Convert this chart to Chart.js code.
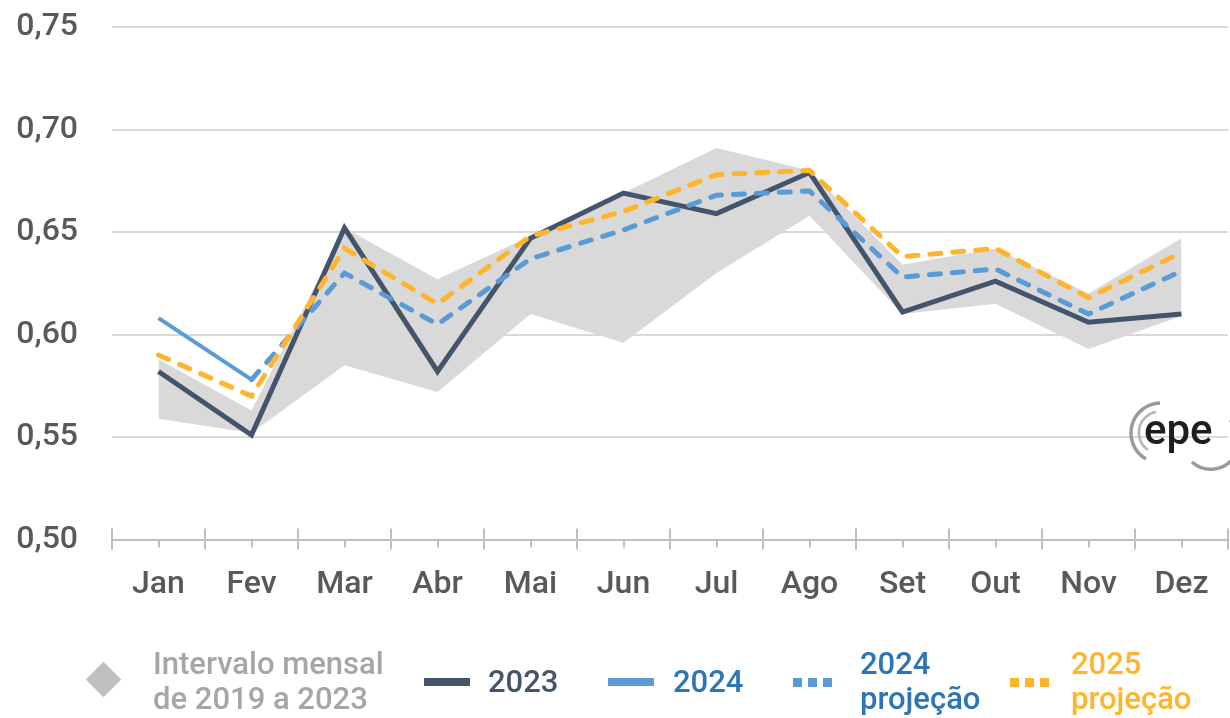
<!DOCTYPE html>
<html lang="pt">
<head>
  <meta charset="UTF-8" />
  <title>Intervalo mensal</title>
  <script src="https://cdn.jsdelivr.net/npm/chart.js"></script>
  <style>
    body { margin: 0; background: #fff; font-family: Roboto, sans-serif; }
    #wrap { position: relative; width: 1230px; height: 718px; overflow: hidden; }
    #chart { position: absolute; left: 0; top: 0; }
    .lg { position: absolute; font-size: 31px; font-weight: 500; line-height: 35px; white-space: nowrap; }
    .bar { position: absolute; height: 8px; width: 46px; }
    .sq { position: absolute; width: 9px; height: 9px; }
    #logo { position: absolute; left: 1118px; top: 396px; width: 112px; height: 80px; }
  </style>
</head>
<body>
<div id="wrap">
  <canvas id="chart" width="1230" height="718"></canvas>

  <!-- legenda -->
  <div style="position:absolute;left:91px;top:667px;width:25px;height:25px;background:#BFBFBF;transform:rotate(45deg);"></div>
  <div class="lg" style="left:153px;top:646px;color:#A6A6A6;">Intervalo mensal<br>de 2019 a 2023</div>

  <div class="bar" style="left:424px;top:678px;background:#44546A;"></div>
  <div class="lg" style="left:488px;top:664px;color:#44546A;">2023</div>

  <div class="bar" style="left:608px;top:678px;background:#5B9BD5;"></div>
  <div class="lg" style="left:673px;top:664px;color:#2E75B6;">2024</div>

  <div class="sq" style="left:793px;top:678px;background:#5B9BD5;"></div>
  <div class="sq" style="left:808px;top:678px;background:#5B9BD5;"></div>
  <div class="sq" style="left:823px;top:678px;background:#5B9BD5;"></div>
  <div class="lg" style="left:860px;top:646px;color:#2E75B6;">2024<br>projeção</div>

  <div class="sq" style="left:1010px;top:678px;background:#FFB52B;"></div>
  <div class="sq" style="left:1025px;top:678px;background:#FFB52B;"></div>
  <div class="sq" style="left:1040px;top:678px;background:#FFB52B;"></div>
  <div class="lg" style="left:1071px;top:646px;color:#FFB52B;">2025<br>projeção</div>

  <!-- logo epe -->
  <svg id="logo" viewBox="0 0 112 80">
    <path d="M42 7 A30 30 0 0 0 28 63" fill="none" stroke="#9a9a9a" stroke-width="3.5"/>
    <path d="M38 16 A21 21 0 0 0 30 54" fill="none" stroke="#b5b5b5" stroke-width="2.5"/>
    <path d="M112 24 A24 24 0 0 1 74 66" fill="none" stroke="#9a9a9a" stroke-width="3.5"/>
    <text x="26" y="48" font-family="Roboto, sans-serif" font-size="42" font-weight="500" fill="#1e1e1e">epe</text>
  </svg>
</div>

<script>
  const months = ['Jan', 'Fev', 'Mar', 'Abr', 'Mai', 'Jun', 'Jul', 'Ago', 'Set', 'Out', 'Nov', 'Dez'];
  const yTicks = [0.50, 0.55, 0.60, 0.65, 0.70, 0.75];

  const intervalMax = [0.588, 0.563, 0.652, 0.627, 0.648, 0.669, 0.691, 0.680, 0.634, 0.642, 0.620, 0.647];
  const intervalMin = [0.559, 0.552, 0.585, 0.572, 0.610, 0.596, 0.630, 0.658, 0.610, 0.615, 0.593, 0.609];

  const serie2023 = [0.582, 0.551, 0.652, 0.582, 0.647, 0.669, 0.659, 0.679, 0.611, 0.626, 0.606, 0.610];
  const serie2024 = [0.608, 0.578, null, null, null, null, null, null, null, null, null, null];
  const proj2024 = [null, 0.578, 0.630, 0.605, 0.637, 0.651, 0.668, 0.670, 0.628, 0.632, 0.610, 0.631];
  const proj2025 = [0.590, 0.570, 0.642, 0.615, 0.648, 0.660, 0.678, 0.680, 0.638, 0.642, 0.618, 0.640];

  const labelColor = '#595959';
  const fontBase = { family: 'Roboto, sans-serif', size: 32, weight: '500' };

  // marcas do eixo x (divisões e centros das categorias)
  const axisTicks = {
    id: 'axisTicks',
    afterDraw(chart) {
      const { ctx, chartArea } = chart;
      const xs = chart.scales.x;
      const y0 = chartArea.bottom;
      const w = (chartArea.right - chartArea.left) / months.length;
      ctx.save();
      ctx.strokeStyle = '#BFBFBF';
      ctx.lineWidth = 2;
      ctx.beginPath();
      for (let i = 0; i <= months.length; i++) {
        const px = Math.round(chartArea.left + i * w);
        ctx.moveTo(px, y0 - 11);
        ctx.lineTo(px, y0 + 10);
      }
      months.forEach((m, i) => {
        const cx = Math.round(xs.getPixelForValue(i));
        ctx.moveTo(cx, y0);
        ctx.lineTo(cx, y0 + 8);
      });
      ctx.stroke();
      ctx.restore();
    }
  };

  new Chart(document.getElementById('chart'), {
    type: 'line',
    data: {
      labels: months,
      datasets: [
        {
          label: '2025 projeção', data: proj2025, order: 0,
          borderColor: '#FFB52B', borderWidth: 5, borderDash: [11, 12], borderCapStyle: 'round'
        },
        {
          label: '2024 projeção', data: proj2024, order: 1,
          borderColor: '#5B9BD5', borderWidth: 5, borderDash: [11, 12], borderCapStyle: 'round'
        },
        {
          label: '2024', data: serie2024, order: 2,
          borderColor: '#5B9BD5', borderWidth: 4
        },
        {
          label: '2023', data: serie2023, order: 3,
          borderColor: '#44546A', borderWidth: 5, borderJoinStyle: 'miter'
        },
        {
          label: 'max', data: intervalMax, order: 4,
          borderWidth: 0, borderColor: 'rgba(0,0,0,0)', backgroundColor: '#D9D9D9', fill: '+1'
        },
        {
          label: 'min', data: intervalMin, order: 5,
          borderWidth: 0, borderColor: 'rgba(0,0,0,0)', fill: false
        }
      ]
    },
    options: {
      responsive: false,
      animation: false,
      layout: { padding: { top: 27, right: 2, bottom: 96, left: 0 } },
      elements: { point: { radius: 0 }, line: { tension: 0 } },
      plugins: { legend: { display: false }, tooltip: { enabled: false } },
      scales: {
        x: {
          offset: true,
          grid: { display: false },
          border: { display: true, color: '#BFBFBF', width: 2 },
          ticks: { color: labelColor, font: fontBase, padding: 18 }
        },
        y: {
          min: 0.50, max: 0.75,
          afterBuildTicks: s => { s.ticks = yTicks.map(v => ({ value: v })); },
          afterFit: s => { s.width = 112; s.paddingTop = 0; s.paddingBottom = 0; },
          border: { display: false },
          grid: { color: '#D9D9D9', lineWidth: 2, drawTicks: false },
          ticks: {
            color: labelColor, font: fontBase, padding: 34,
            callback: v => v.toFixed(2).replace('.', ',')
          }
        }
      }
    },
    plugins: [axisTicks]
  });
</script>
</body>
</html>
